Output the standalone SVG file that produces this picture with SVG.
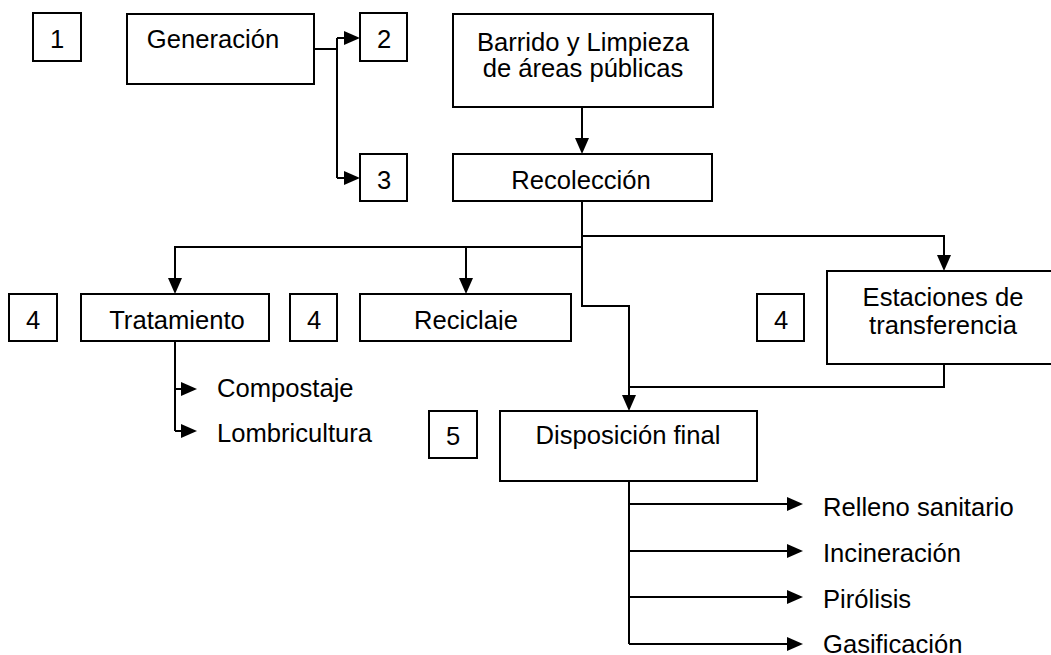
<svg xmlns="http://www.w3.org/2000/svg" width="1051" height="655" viewBox="0 0 1051 655">
<style>
.box{fill:#fff;stroke:#000;stroke-width:2}
.t{font-family:"Liberation Sans",Arial,sans-serif;font-size:25.6px;fill:#000}
.c{text-anchor:middle}
.ln{fill:none;stroke:#000;stroke-width:2}
</style>
<defs>
<marker id="ah" markerUnits="userSpaceOnUse" markerWidth="17" markerHeight="15" refX="13" refY="7" orient="auto">
<path d="M0,0 L16,7 L0,14 z" fill="#000"/>
</marker>
<clipPath id="clipRec"><rect x="355" y="290" width="220" height="40"/></clipPath>
</defs>
<rect width="1051" height="655" fill="#fff"/>

<g id="connectors">
<path class="ln" d="M314,49 H337 M337,38 V178"/>
<path class="ln" d="M337,38 H357" marker-end="url(#ah)"/>
<path class="ln" d="M337,178 H357" marker-end="url(#ah)"/>
<path class="ln" d="M582,107 V151" marker-end="url(#ah)"/>
<path class="ln" d="M582,201 V306 H629 V408" marker-end="url(#ah)"/>
<path class="ln" d="M582,236 H944 V268" marker-end="url(#ah)"/>
<path class="ln" d="M582,247 H175 V291" marker-end="url(#ah)"/>
<path class="ln" d="M466,247 V291" marker-end="url(#ah)"/>
<path class="ln" d="M944,364 V387 H629"/>
<path class="ln" d="M175,341 V431"/>
<path class="ln" d="M175,389 H194" marker-end="url(#ah)"/>
<path class="ln" d="M175,431 H194" marker-end="url(#ah)"/>
<path class="ln" d="M629,481 V644"/>
<path class="ln" d="M629,504 H800" marker-end="url(#ah)"/>
<path class="ln" d="M629,551 H800" marker-end="url(#ah)"/>
<path class="ln" d="M629,597 H800" marker-end="url(#ah)"/>
<path class="ln" d="M629,644 H800" marker-end="url(#ah)"/>
</g>

<g id="n1"><rect class="box" x="33" y="13" width="48" height="48"/><text class="t c" x="57" y="48">1</text></g>
<g id="generacion"><rect class="box" x="127" y="14" width="187" height="70"/><text class="t c" x="213" y="48">Generación</text></g>
<g id="n2"><rect class="box" x="360" y="13" width="47" height="48"/><text class="t c" x="384" y="48">2</text></g>
<g id="n3"><rect class="box" x="360" y="154" width="47" height="47"/><text class="t c" x="384" y="189">3</text></g>
<g id="barrido"><rect class="box" x="453" y="14" width="260" height="93"/><text class="t c" x="583" y="51">Barrido y Limpieza</text><text class="t c" x="583" y="77">de áreas públicas</text></g>
<g id="recoleccion"><rect class="box" x="453" y="154" width="259" height="47"/><text class="t c" x="581" y="189">Recolección</text></g>
<g id="n4a"><rect class="box" x="9" y="294" width="48" height="47"/><text class="t c" x="33" y="329">4</text></g>
<g id="tratamiento"><rect class="box" x="81" y="294" width="188" height="47"/><text class="t c" x="177" y="329">Tratamiento</text></g>
<g id="n4b"><rect class="box" x="290" y="294" width="47" height="47"/><text class="t c" x="314" y="329">4</text></g>
<g id="reciclaje"><rect class="box" x="360" y="294" width="211" height="47"/><text class="t c" x="466" y="328.5" clip-path="url(#clipRec)">Reciclaje</text></g>
<g id="n4c"><rect class="box" x="757" y="294" width="47" height="47"/><text class="t c" x="781" y="329">4</text></g>
<g id="estaciones"><rect class="box" x="827" y="271" width="233" height="93"/><text class="t c" x="943" y="306">Estaciones de</text><text class="t c" x="943" y="334">transferencia</text></g>
<g id="n5"><rect class="box" x="429" y="411" width="48" height="47"/><text class="t c" x="453" y="445">5</text></g>
<g id="disposicion"><rect class="box" x="500" y="411" width="257" height="70"/><text class="t c" x="628" y="444">Disposición final</text></g>

<g id="labels">
<text class="t" x="217" y="397">Compostaje</text>
<text class="t" x="217" y="442">Lombricultura</text>
<text class="t" x="823" y="516">Relleno sanitario</text>
<text class="t" x="823" y="562">Incineración</text>
<text class="t" x="823" y="608">Pirólisis</text>
<text class="t" x="823" y="653">Gasificación</text>
</g>
</svg>
